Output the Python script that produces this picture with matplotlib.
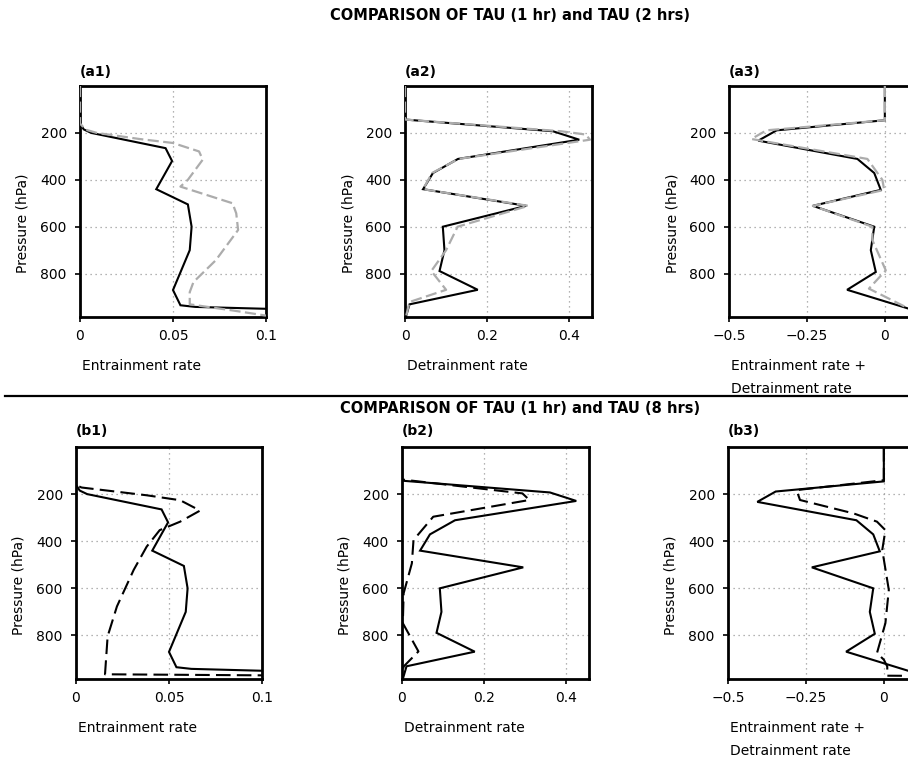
import matplotlib
matplotlib.use("Agg")
import matplotlib.pyplot as plt
from matplotlib.lines import Line2D

# ---------------- data ----------------
# Entrainment rate
ent_tau1_p = [0, 160, 185, 200, 265, 320, 440, 505, 600, 700, 870, 935, 942, 950, 953]
ent_tau1 = [0, 0, 0.002, 0.006, 0.046, 0.0495, 0.041, 0.058, 0.060, 0.059, 0.050, 0.054, 0.062, 0.100, 0.110]

ent_tau2_p = [0, 160, 186, 200, 226, 243, 279, 314, 400, 429, 500, 543, 614, 743, 836, 879, 931, 957, 979]
ent_tau2 = [0, 0, 0.003, 0.009, 0.032, 0.050, 0.064, 0.066, 0.058, 0.054, 0.082, 0.084, 0.085,
            0.073, 0.061, 0.059, 0.059, 0.082, 0.100]

ent_tau8_p = [0, 162, 172, 205, 226, 270, 317, 353, 423, 522, 677, 804, 965, 970]
ent_tau8 = [0, 0, 0.003, 0.038, 0.056, 0.0667, 0.056, 0.045, 0.038, 0.031, 0.022, 0.017, 0.0156, 0.110]

# Detrainment rate
det_tau1_p = [0, 143, 193, 229, 311, 371, 440, 511, 600, 700, 789, 869, 931, 979]
det_tau1 = [0, 0, 0.36, 0.424, 0.129, 0.068, 0.044, 0.295, 0.092, 0.096, 0.084, 0.177, 0.011, 0.003]

det_tau2_p = [0, 143, 193, 207, 229, 311, 371, 440, 511, 600, 700, 789, 869, 921, 979]
det_tau2 = [0, 0, 0.38, 0.44, 0.45, 0.13, 0.066, 0.044, 0.30, 0.128, 0.100, 0.064, 0.100, 0.011, 0.003]

det_tau8_p = [0, 138, 197, 225, 296, 395, 494, 621, 748, 868, 932, 974]
det_tau8 = [0, 0, 0.293, 0.31, 0.076, 0.028, 0.024, 0.004, 0.002, 0.040, 0.004, 0.0]

# Entrainment + detrainment rate
sum_tau1_p = [0, 146, 189, 233, 311, 371, 443, 511, 600, 700, 793, 869, 950, 967]
sum_tau1 = [0, 0, -0.347, -0.406, -0.088, -0.034, -0.013, -0.231, -0.034, -0.045, -0.029, -0.121, 0.078, 0.12]

sum_tau2_p = [0, 146, 189, 226, 311, 400, 443, 511, 600, 657, 786, 864, 950, 967]
sum_tau2 = [0, 0, -0.38, -0.428, -0.056, -0.008, -0.002, -0.231, -0.040, -0.040, 0.003, -0.051, 0.078, 0.12]

sum_tau8_p = [0, 141, 183, 225, 282, 317, 353, 437, 607, 748, 875, 903, 932, 971, 972]
sum_tau8 = [0, 0, -0.28, -0.269, -0.097, -0.022, 0.005, -0.005, 0.016, 0.005, -0.022, 0.0, 0.011, 0.011, 0.15]

y_ticks = [200, 400, 600, 800]
ent_ticks = [0, 0.05, 0.1]
ent_ticklabels = ["0", "0.05", "0.1"]
det_ticks = [0, 0.2, 0.4]
det_ticklabels = ["0", "0.2", "0.4"]
sum_ticks = [-0.5, -0.25, 0]
sum_ticklabels = ["\u22120.5", "\u22120.25", "0"]

title_top = "COMPARISON OF TAU (1 hr) and TAU (2 hrs)"
title_bot = "COMPARISON OF TAU (1 hr) and TAU (8 hrs)"

# ---------------- layout ----------------
W, H = 908, 762
fig = plt.figure(figsize=(W / 100, H / 100), dpi=100)
plt.rcParams['font.family'] = ['DejaVu Sans']


def rect(l, t, r, b):
    return [l / W, 1 - b / H, (r - l) / W, (b - t) / H]


def ftext(x, y, s, **kw):
    fig.text(x / W, 1 - y / H, s, **kw)


GRAY = '#acacac'
YLIM = (985, 0)


def setup(ax, xlim, ticks, labels, xlab_lines, label, lpx, tpx, bpx, row_label_y):
    ax.set_xlim(*xlim)
    ax.set_ylim(*YLIM)
    ax.set_xticks(ticks)
    ax.set_xticklabels(labels)
    ax.set_yticks(y_ticks)
    ax.set_yticklabels([str(v) for v in y_ticks])
    ax.tick_params(axis='both', direction='out', length=3.5, width=1.2, labelsize=10, pad=5.5)
    ax.tick_params(axis='y', pad=6)
    ax.tick_params(top=False, right=False)
    ax.grid(True, linestyle=(0, (1, 3)), color='#9a9a9a', linewidth=0.9)
    for s in ax.spines.values():
        s.set_linewidth(2.0)
        s.set_color('black')
    ax.set_axisbelow(True)
    # panel label
    ftext(lpx, row_label_y, label, fontsize=10, fontweight='bold', ha='left', va='center')
    # y label
    ftext(lpx - 57, (tpx + bpx) / 2 + 22, "Pressure (hPa)", fontsize=10, rotation=90,
          ha='center', va='center')
    # x label lines
    for i, line in enumerate(xlab_lines):
        ftext(lpx + 2, bpx + 49 + 23 * i, line, fontsize=10, ha='left', va='center')


rows = [
    dict(top=86, bot=317, lefts=[(80, 266), (405, 592), (729, 916)], lab_y=72,
         names=["(a1)", "(a2)", "(a3)"], other=(ent_tau2, ent_tau2_p, det_tau2, det_tau2_p, sum_tau2, sum_tau2_p),
         style='gray'),
    dict(top=447, bot=679, lefts=[(76, 262), (402, 589), (728, 915)], lab_y=431,
         names=["(b1)", "(b2)", "(b3)"], other=(ent_tau8, ent_tau8_p, det_tau8, det_tau8_p, sum_tau8, sum_tau8_p),
         style='black'),
]

for row in rows:
    t, b = row['top'], row['bot']
    base = [(ent_tau1, ent_tau1_p), (det_tau1, det_tau1_p), (sum_tau1, sum_tau1_p)]
    o = row['other']
    others = [(o[0], o[1]), (o[2], o[3]), (o[4], o[5])]
    specs = [((0, 0.1), ent_ticks, ent_ticklabels, ["Entrainment rate"]),
             ((0, 0.455), det_ticks, det_ticklabels, ["Detrainment rate"]),
             ((-0.5, 0.1), sum_ticks, sum_ticklabels, ["Entrainment rate +", "Detrainment rate"])]
    for k in range(3):
        l, r = row['lefts'][k]
        ax = fig.add_axes(rect(l, t, r, b))
        xv, pv = base[k]
        ax.plot(xv, pv, color='black', linewidth=1.5, zorder=3, solid_joinstyle='miter')
        ov, op = others[k]
        if row['style'] == 'gray':
            ax.plot(ov, op, color=GRAY, linewidth=1.6, linestyle=(0, (5, 2)), zorder=4)
        else:
            ax.plot(ov, op, color='black', linewidth=1.5, linestyle=(0, (7, 3)), zorder=4)
        xlim, ticks, labels, xl = specs[k]
        setup(ax, xlim, ticks, labels, xl, row['names'][k], l, t, b, row['lab_y'])

ftext(510, 16, title_top, fontsize=10.5, fontweight='bold', ha='center', va='center')
ftext(520, 408, title_bot, fontsize=10.5, fontweight='bold', ha='center', va='center')

fig.add_artist(Line2D([5 / W, 1.0], [1 - 396 / H, 1 - 396 / H], color='black', linewidth=1.6))

fig.savefig("out.png", dpi=100)
